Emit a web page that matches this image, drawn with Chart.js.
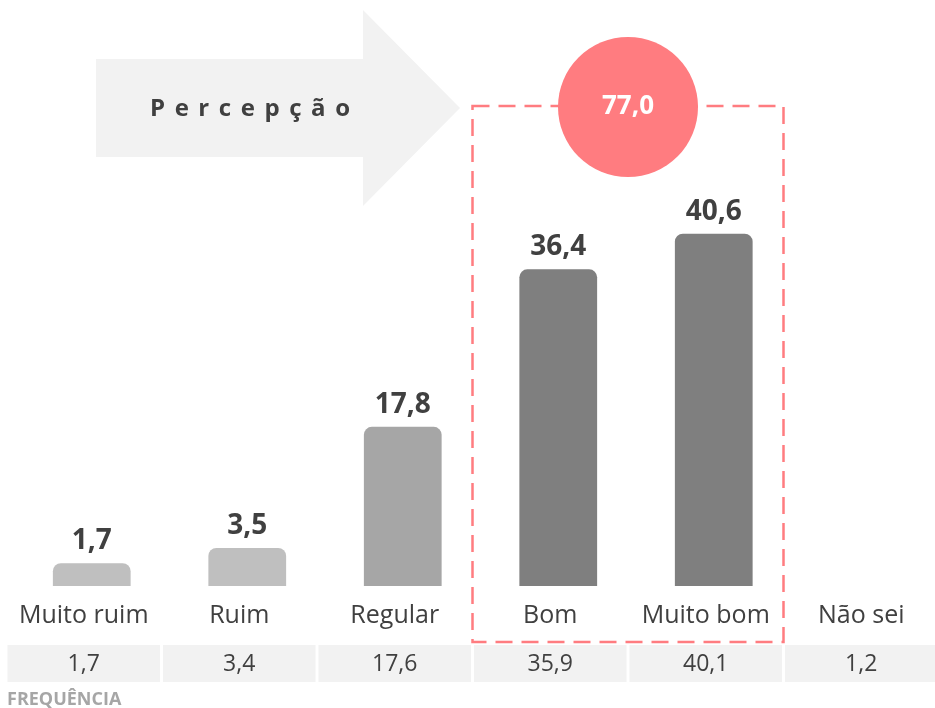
<!DOCTYPE html>
<html>
<head>
<meta charset="utf-8">
<script src="https://cdn.jsdelivr.net/npm/chart.js@4/dist/chart.umd.min.js"></script>
<style>
  html, body { margin: 0; padding: 0; background: #ffffff; overflow: hidden; }
  #wrap { position: absolute; left: 0; top: 0; width: 950px; height: 708px; }
</style>
</head>
<body>
<div id="wrap"><canvas id="c" width="950" height="708"></canvas></div>
<script>
// ---- data ----
const categories = ['Muito ruim', 'Ruim', 'Regular', 'Bom', 'Muito bom', 'Não sei'];
const perceptionValues = [1.7, 3.5, 17.8, 36.4, 40.6, null];
const frequencyValues = [1.7, 3.4, 17.6, 35.9, 40.1, 1.2];
const highlightTotal = 77.0;
const highlightCategories = ['Bom', 'Muito bom'];
const titleText = 'Percepção';
const frequencyLabel = 'FREQUÊNCIA';

// ---- styles ----
const barColors = ['#bfbfbf', '#bfbfbf', '#a6a6a6', '#7f7f7f', '#7f7f7f', '#7f7f7f'];
const textDark = '#404040';
const accent = '#ff7c80';
const FONT = '"Open Sans", "Noto Sans", sans-serif';
const LABEL_SHIFT = -8;

const fmt = v => v.toFixed(1).replace('.', ',');

const decorPlugin = {
  id: 'decor',
  beforeDraw(chart) {
    const ctx = chart.ctx;
    ctx.save();
    // arrow
    ctx.fillStyle = '#f2f2f2';
    ctx.beginPath();
    ctx.moveTo(96, 59);
    ctx.lineTo(363, 59);
    ctx.lineTo(363, 10);
    ctx.lineTo(460, 108);
    ctx.lineTo(363, 206);
    ctx.lineTo(363, 157);
    ctx.lineTo(96, 157);
    ctx.closePath();
    ctx.fill();
    // spaced title
    ctx.fillStyle = textDark;
    ctx.font = 'bold 24px ' + FONT;
    ctx.textBaseline = 'alphabetic';
    ctx.textAlign = 'left';
    const chars = Array.from(titleText);
    const widths = chars.map(ch => ctx.measureText(ch).width);
    const total = widths.reduce((a, b) => a + b, 0);
    const span = 200;
    const gap = (span - total) / (chars.length - 1);
    let x = 150;
    chars.forEach((ch, i) => { ctx.fillText(ch, x, 116); x += widths[i] + gap; });
    ctx.restore();
  },
  afterDatasetsDraw(chart) {
    const ctx = chart.ctx;
    const xs = chart.scales.x;
    const meta = chart.getDatasetMeta(0);
    ctx.save();
    // value labels above bars
    ctx.fillStyle = textDark;
    ctx.font = 'bold 28px ' + FONT;
    ctx.textAlign = 'center';
    ctx.textBaseline = 'alphabetic';
    meta.data.forEach((bar, i) => {
      const v = perceptionValues[i];
      if (v === null || v === undefined) return;
      ctx.fillText(fmt(v), bar.x, bar.y - 14);
    });

    const catW = (xs.right - xs.left) / categories.length;
    // frequency table
    categories.forEach((c, i) => {
      const cx = xs.getPixelForValue(i) + LABEL_SHIFT;
      ctx.fillStyle = '#f2f2f2';
      ctx.fillRect(cx - catW / 2 + 1.5, 645, catW - 3, 37);
      ctx.fillStyle = textDark;
      ctx.font = '23px ' + FONT;
      ctx.textAlign = 'center';
      ctx.textBaseline = 'middle';
      ctx.fillText(fmt(frequencyValues[i]), cx, 664);
    });
    ctx.fillStyle = '#a6a6a6';
    ctx.font = 'bold 18px ' + FONT;
    ctx.textAlign = 'left';
    ctx.textBaseline = 'alphabetic';
    ctx.fillText(frequencyLabel, 7, 705);

    // dashed highlight box
    const i0 = categories.indexOf(highlightCategories[0]);
    const i1 = categories.indexOf(highlightCategories[highlightCategories.length - 1]);
    const bx0 = xs.getPixelForValue(i0) + LABEL_SHIFT - catW / 2;
    const bx1 = xs.getPixelForValue(i1) + LABEL_SHIFT + catW / 2;
    ctx.strokeStyle = accent;
    ctx.lineWidth = 2.5;
    ctx.setLineDash([17, 9]);
    ctx.strokeRect(bx0, 106, bx1 - bx0, 536);
    ctx.setLineDash([]);
    // circle
    const ccx = (bx0 + bx1) / 2;
    ctx.fillStyle = accent;
    ctx.beginPath();
    ctx.arc(ccx, 107, 70, 0, Math.PI * 2);
    ctx.fill();
    ctx.fillStyle = '#ffffff';
    ctx.font = 'bold 26px ' + FONT;
    ctx.textAlign = 'center';
    ctx.textBaseline = 'middle';
    ctx.fillText(fmt(highlightTotal), ccx, 107);
    ctx.restore();
  }
};

new Chart(document.getElementById('c'), {
  type: 'bar',
  data: {
    labels: categories,
    datasets: [{
      data: perceptionValues,
      base: -1,
      backgroundColor: barColors,
      borderRadius: { topLeft: 8, topRight: 8, bottomLeft: 0, bottomRight: 0 },
      borderSkipped: 'bottom',
      barPercentage: 0.5,
      categoryPercentage: 1.0
    }]
  },
  options: {
    responsive: false,
    animation: false,
    events: [],
    layout: { padding: { left: 14, right: 3, top: 188, bottom: 0 } },
    plugins: { legend: { display: false }, tooltip: { enabled: false }, title: { display: false } },
    scales: {
      x: {
        offset: true,
        grid: { display: false, drawTicks: false },
        border: { display: false },
        ticks: { color: textDark, font: { family: FONT, size: 25 }, padding: 15, labelOffset: LABEL_SHIFT, maxRotation: 0, autoSkip: false },
        afterFit(scale) { scale.height = 122; }
      },
      y: {
        display: false,
        min: -1,
        max: 46
      }
    }
  },
  plugins: [decorPlugin]
});
</script>
</body>
</html>
